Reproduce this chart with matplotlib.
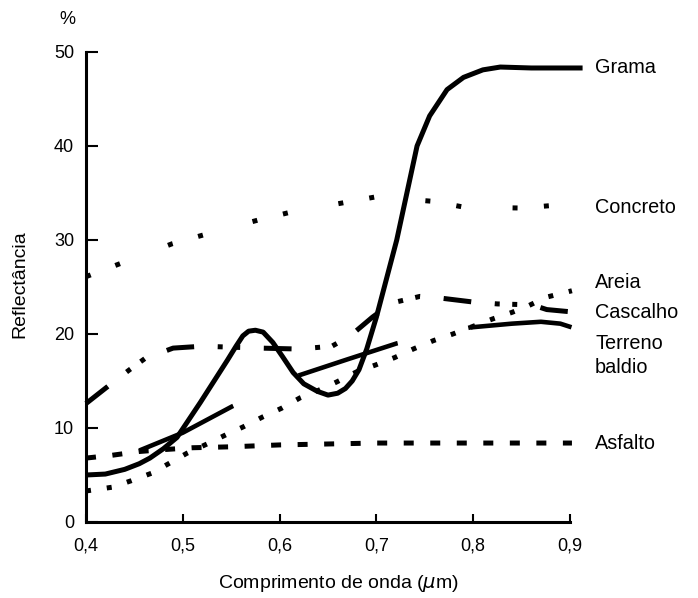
import matplotlib
matplotlib.use('Agg')
import matplotlib.pyplot as plt

plt.rcParams['font.family'] = ['Liberation Sans', 'DejaVu Sans']
plt.rcParams['lines.scale_dashes'] = False  # tracejados em pontos

# dados (comprimento de onda em um, reflectancia em %)
grama_x = [0.40, 0.42, 0.44, 0.455, 0.466, 0.48, 0.494, 0.518, 0.546, 0.555, 0.562, 0.568,
           0.575, 0.583, 0.593, 0.603, 0.614, 0.625, 0.639, 0.65, 0.66, 0.668, 0.675, 0.682,
           0.69, 0.70, 0.721, 0.742, 0.755, 0.773, 0.79, 0.81, 0.828, 0.86, 0.913]
grama_y = [5.0, 5.1, 5.6, 6.2, 6.8, 7.8, 9.0, 12.7, 17.2, 18.7, 19.8, 20.3,
           20.4, 20.2, 19.1, 17.6, 15.9, 14.7, 13.9, 13.5, 13.7, 14.2, 15.0, 16.2,
           18.4, 21.8, 30.0, 40.0, 43.2, 46.0, 47.3, 48.1, 48.4, 48.3, 48.3]

concreto_x = [0.40, 0.433, 0.489, 0.52, 0.577, 0.609, 0.668, 0.70, 0.76, 0.79, 0.85, 0.885]
concreto_y = [26.1, 27.4, 29.6, 30.5, 32.1, 32.9, 34.0, 34.6, 34.1, 33.5, 33.4, 33.7]

areia_x = [0.40, 0.427, 0.447, 0.468, 0.487, 0.504, 0.525, 0.545, 0.562, 0.583, 0.602, 0.621,
           0.64, 0.659, 0.68, 0.699, 0.719, 0.738, 0.759, 0.779, 0.82, 0.84, 0.855, 0.875, 0.902]
areia_y = [3.3, 3.7, 4.4, 5.2, 6.3, 7.3, 8.3, 9.3, 10.1, 11.2, 12.1, 13.2,
           14.0, 14.9, 16.0, 16.7, 17.5, 18.4, 19.3, 20.0, 21.6, 22.3, 22.9, 23.9, 24.6]

cascalho_x = [0.40, 0.421, 0.445, 0.461, 0.49, 0.52, 0.55, 0.58, 0.62, 0.654, 0.673, 0.696,
              0.716, 0.745, 0.768, 0.80, 0.825, 0.861, 0.876, 0.907]
cascalho_y = [12.6, 14.3, 16.2, 17.4, 18.5, 18.7, 18.6, 18.5, 18.4, 18.7, 19.8, 21.8,
              23.3, 24.0, 23.8, 23.4, 23.2, 23.1, 22.6, 22.3]

terreno_x = [0.455, 0.50, 0.551, 0.60, 0.62, 0.67, 0.721, 0.76, 0.797, 0.84, 0.87, 0.89, 0.905]
terreno_y = [7.6, 9.5, 12.3, 14.5, 15.6, 17.3, 19.0, 19.9, 20.7, 21.1, 21.3, 21.1, 20.6]

asfalto_x = [0.40, 0.427, 0.455, 0.48, 0.51, 0.55, 0.60, 0.65, 0.70, 0.80, 0.902]
asfalto_y = [6.8, 7.1, 7.5, 7.7, 7.9, 8.0, 8.2, 8.3, 8.4, 8.4, 8.4]

# rotulos a direita das curvas
rotulos = ['Grama', 'Concreto', 'Areia', 'Cascalho', 'Terreno\nbaldio', 'Asfalto']
rotulos_y = [48.4, 33.5, 25.5, 22.3, 17.7, 8.4]

x_ticks = [0.4, 0.5, 0.6, 0.7, 0.8, 0.9]
x_ticklabels = ['0,4', '0,5', '0,6', '0,7', '0,8', '0,9']
y_ticks = [0, 10, 20, 30, 40, 50]

fig = plt.figure(figsize=(6.98, 5.98), dpi=100)
ax = fig.add_axes([86 / 698, 1 - 522 / 598, 484 / 698, 470 / 598])

k = dict(color='black', clip_on=False, solid_capstyle='butt', dash_capstyle='butt')
ax.plot(grama_x, grama_y, lw=3.6, **k)
ax.plot(concreto_x, concreto_y, lw=3.6, dashes=(3.6, 19, 3.6, 37), **k)
ax.plot(areia_x, areia_y, lw=3.6, dashes=(3.6, 11.5), **k)
ax.plot(cascalho_x, cascalho_y, lw=3.6, dashes=(20, 17, 3.6, 9, 3.6, 17), **k)
ax.plot(terreno_x, terreno_y, lw=3.3, dashes=(75, 52), **k)
ax.plot(asfalto_x, asfalto_y, lw=3.6, dashes=(7.2, 11.9), **k)

for txt, yy in zip(rotulos, rotulos_y):
    ax.text(0.926, yy, txt, fontsize=14.3, ha='left', va='center', linespacing=1.3)

ax.set_xlim(0.4, 0.9)
ax.set_ylim(0, 50)
ax.set_xticks(x_ticks)
ax.set_xticklabels(x_ticklabels)
ax.set_yticks(y_ticks)
ax.tick_params(axis='y', direction='in', length=8.6, width=1.5, pad=8.6, labelsize=13)
ax.tick_params(axis='x', direction='in', length=5.8, width=1.5, pad=11, labelsize=13)
for s in ['top', 'right']:
    ax.spines[s].set_visible(False)
for s in ['left', 'bottom']:
    ax.spines[s].set_linewidth(2.2)

fig.text(67 / 698, 1 - 20 / 598, '%', fontsize=13, ha='center', va='center')
fig.text(20 / 698, 1 - 284 / 598, 'Reflectância', fontsize=14, rotation=90,
         ha='center', va='center')
fig.text(338 / 698, 1 - 584 / 598, r'Comprimento de onda ($\mu$m)', fontsize=14,
         ha='center', va='center')

plt.savefig('out.png', dpi=100)
